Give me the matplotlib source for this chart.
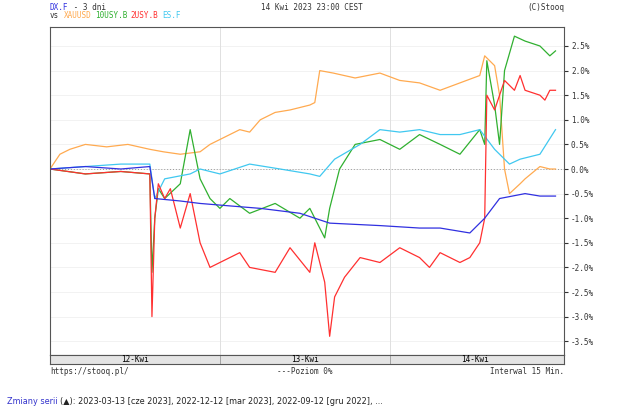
import matplotlib
matplotlib.use("Agg")
import matplotlib.pyplot as plt
import numpy as np

gold_x = [0,1.4,2.8,5,8,11,14.1,16,18.4,21.2,22.6,24,26.8,28.2,29.7,31.8,33.9,36.7,37.4,38.1,40,43.1,46.6,49.4,52.2,55.1,57.9,60.7,61.4,62.8,63.5,64.2,64.9,66.4,67.1,69.2,70.6,71.4]
gold_y = [0,0.3,0.4,0.5,0.45,0.5,0.4,0.35,0.3,0.35,0.5,0.6,0.8,0.75,1.0,1.15,1.2,1.3,1.35,2.0,1.95,1.85,1.95,1.8,1.75,1.6,1.75,1.9,2.3,2.1,1.5,0.0,-0.5,-0.3,-0.2,0.05,0.0,0.0]
t10_x = [0,5,10,14.1,14.4,14.8,15.3,16.2,18.4,19.8,21.2,22.6,24,25.4,28.2,31.8,35.3,36.7,38.1,38.8,39.5,40.9,43.1,46.6,49.4,52.2,55.1,57.9,60.7,61.4,61.7,62.8,63.5,64.2,65.6,67.1,69.2,70.6,71.4]
t10_y = [0,-0.1,-0.05,-0.1,-2.1,-1.0,-0.4,-0.6,-0.3,0.8,-0.2,-0.6,-0.8,-0.6,-0.9,-0.7,-1.0,-0.8,-1.2,-1.4,-0.8,0.0,0.5,0.6,0.4,0.7,0.5,0.3,0.8,0.5,2.2,1.3,0.5,2.0,2.7,2.6,2.5,2.3,2.4]
t2_x = [0,5,10,14.1,14.4,14.8,15.3,16.2,17,18.4,19.8,21.2,22.6,24,26.8,28.2,31.8,33.9,36.7,37.4,38.8,39.5,40.2,41.6,43.8,46.6,49.4,52.2,53.6,55.1,57.9,59.3,60.7,61.4,61.7,62.8,64.2,65.6,66.4,67.1,69.2,69.9,70.6,71.4]
t2_y = [0,-0.1,-0.05,-0.1,-3.0,-1.0,-0.3,-0.6,-0.4,-1.2,-0.5,-1.5,-2.0,-1.9,-1.7,-2.0,-2.1,-1.6,-2.1,-1.5,-2.3,-3.4,-2.6,-2.2,-1.8,-1.9,-1.6,-1.8,-2.0,-1.7,-1.9,-1.8,-1.5,-1.0,1.5,1.2,1.8,1.6,1.9,1.6,1.5,1.4,1.6,1.6]
es_x = [0,5,10,14.1,14.8,16.2,19.8,21.2,24,28.2,32.5,36.7,38.1,40.2,43.8,46.6,49.4,52.2,55.1,57.9,60.7,62.8,63.5,64.9,66.4,69.2,71.4]
es_y = [0,0.05,0.1,0.1,-0.6,-0.2,-0.1,0.0,-0.1,0.1,0.0,-0.1,-0.15,0.2,0.5,0.8,0.75,0.8,0.7,0.7,0.8,0.4,0.3,0.1,0.2,0.3,0.8]
dx_x = [0,5,10,14.1,14.8,18.4,21.2,25.4,29.7,35.3,39.5,46.6,52.2,55.1,59.3,61.4,63.5,67.1,69.2,71.4]
dx_y = [0,0.05,0.0,0.05,-0.6,-0.65,-0.7,-0.75,-0.8,-0.9,-1.1,-1.15,-1.2,-1.2,-1.3,-1.0,-0.6,-0.5,-0.55,-0.55]
yticks = [2.5,2.0,1.5,1.0,0.5,0.0,-0.5,-1.0,-1.5,-2.0,-2.5,-3.0,-3.5]
days = ["12-Kwi","13-Kwi","14-Kwi"]

mono = "DejaVu Sans Mono"
fig = plt.figure(figsize=(6.25,4.13), dpi=100)
W, H = 625, 413
ax = fig.add_axes([50/W, 1-355/H, 514/W, 328/H])
ax.set_xlim(0, 72.6)
ax.set_ylim(-3.78, 2.886)
for v in yticks:
    ax.axhline(v, color="#f0f0f0", lw=0.6, zorder=0)
ax.axhline(0, color="#999999", lw=0.7, ls=(0,(1,2)), zorder=1)
for d in [24, 48]:
    ax.axvline(d, color="#e0e0e0", lw=0.7, zorder=0)
ax.plot(gold_x, gold_y, color="#ffaa50", lw=0.9)
ax.plot(t10_x, t10_y, color="#30b030", lw=0.9)
ax.plot(es_x, es_y, color="#40c8f0", lw=0.9)
ax.plot(t2_x, t2_y, color="#ff3030", lw=0.9)
ax.plot(dx_x, dx_y, color="#3030e0", lw=0.9)
ax.set_xticks([])
ax.yaxis.tick_right()
ax.set_yticks(yticks)
ax.set_yticklabels([f"{v:.1f}%" for v in yticks], fontsize=5.5, family=mono)
ax.tick_params(axis="y", length=3, pad=2, colors="#333333")
for s in ax.spines.values():
    s.set_color("#555555"); s.set_linewidth(0.8)

bx = fig.add_axes([50/W, 1-364/H, 514/W, 9/H])
bx.set_xlim(0, 72.6); bx.set_ylim(0, 1)
bx.set_facecolor("#e4e4e4")
bx.set_xticks([]); bx.set_yticks([])
for d in [24, 48]:
    bx.axvline(d, color="#999999", lw=0.6)
for i, lab in enumerate(days):
    bx.text(12+24*i, 0.5, lab, ha="center", va="center", fontsize=5.5, family=mono)
for s in bx.spines.values():
    s.set_color("#555555"); s.set_linewidth(0.8)

def t(x, y, s, c="#333333", ha="left"):
    fig.text(x/W, 1-y/H, s, color=c, fontsize=5.5, family=mono, ha=ha, va="center")
t(50, 7, "DX.F", "#3030e0"); t(69, 7, " - 3 dni")
t(312, 7, "14 Kwi 2023 23:00 CEST", ha="center")
t(564, 7, "(C)Stooq", ha="right")
t(50, 16, "vs"); t(64, 16, "XAUUSD", "#ffaa50"); t(95, 16, "10USY.B", "#30b030")
t(130, 16, "2USY.B", "#ff3030"); t(162, 16, "ES.F", "#40c8f0")
t(50, 371, "https://stooq.pl/")
t(305, 371, "---Poziom 0%", ha="center")
t(564, 371, "Interwal 15 Min.", ha="right")
z = fig.text(7/W, 1-401/H, "Zmiany serii", color="#3333cc", fontsize=5.9, va="center")
fig.canvas.draw()
bb = z.get_window_extent().transformed(fig.transFigure.inverted())
fig.text(bb.x1 + 3/W, 1-401/H, "(▲): 2023-03-13 [cze 2023], 2022-12-12 [mar 2023], 2022-09-12 [gru 2022], ...",
         color="#222222", fontsize=5.9, va="center")
fig.savefig("out.png", dpi=100)
